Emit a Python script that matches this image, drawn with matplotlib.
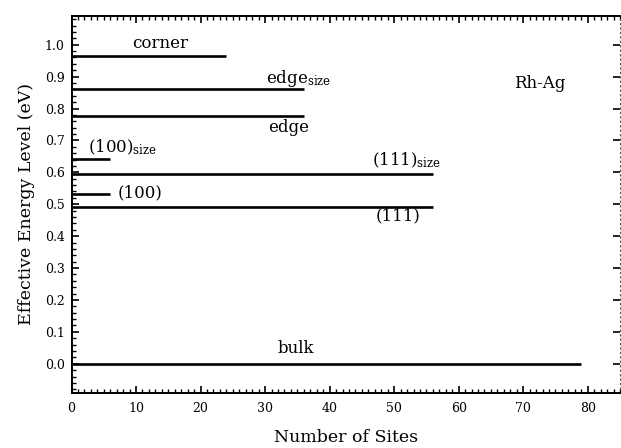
import matplotlib
matplotlib.use("Agg")
import matplotlib.pyplot as plt
from matplotlib.ticker import MultipleLocator

plt.rcParams['font.family'] = ['DejaVu Serif']
plt.rcParams['mathtext.fontset'] = 'dejavuserif'

# Site classes of the 201-atom cluster: number of sites and effective level (eV)
site_types = ["corner", "edge_size", "edge", "(100)_size", "(111)_size", "(100)", "(111)", "bulk"]
site_counts = [24, 36, 36, 6, 56, 6, 56, 79]
energy_levels = [0.965, 0.860, 0.778, 0.641, 0.594, 0.531, 0.491, 0.0]

# label text and anchor (x, y) in data units
label_texts = ["corner", r"edge$_{\mathrm{size}}$", "edge", r"(100)$_{\mathrm{size}}$",
               r"(111)$_{\mathrm{size}}$", "(100)", "(111)", "bulk"]
label_x = [13.8, 30.2, 30.5, 2.6, 46.5, 7.2, 47.2, 34.7]
label_y = [1.004, 0.895, 0.740, 0.680, 0.637, 0.537, 0.462, 0.048]
label_ha = ["center", "left", "left", "left", "left", "left", "left", "center"]

fig = plt.figure(figsize=(6.21, 4.48), dpi=100)
ax = fig.add_axes([71.5 / 621, 1 - 392.5 / 448, (620 - 71.5) / 621, (392.5 - 16) / 448])

for n, e in zip(site_counts, energy_levels):
    ax.hlines(e, 0, n, color="black", lw=1.9)

for t, x, y, ha in zip(label_texts, label_x, label_y, label_ha):
    ax.text(x, y, t, ha=ha, va="center", fontsize=12)

ax.text(72.6, 0.879, "Rh-Ag", ha="center", va="center", fontsize=12)

ax.set_xlim(0, 85)
ax.set_ylim(-0.09, 1.09)
ax.xaxis.set_minor_locator(MultipleLocator(1))
ax.yaxis.set_minor_locator(MultipleLocator(0.02))
ax.set_xticks(range(0, 81, 10))
ax.set_yticks([round(0.1 * i, 1) for i in range(0, 11)])
ax.set_yticklabels([f"{0.1 * i:.1f}" for i in range(0, 11)])

ax.tick_params(axis="both", which="major", direction="in", length=5, width=1.2,
               labelsize=9, top=True, right=True, color="black")
ax.tick_params(axis="both", which="minor", direction="in", length=3, width=1.0,
               top=True, right=False)
ax.tick_params(axis="x", pad=7)
ax.tick_params(axis="y", pad=5)

for s in ["left", "bottom", "top"]:
    ax.spines[s].set_linewidth(1.4)
ax.spines["right"].set_linewidth(0.8)
ax.spines["right"].set_linestyle((0, (1, 3)))
ax.spines["right"].set_color("#555555")

ax.set_xlabel("Number of Sites", fontsize=12.5, labelpad=10)
ax.set_ylabel("Effective Energy Level (eV)", fontsize=12.5, labelpad=7)

fig.savefig("out.png", dpi=100)
